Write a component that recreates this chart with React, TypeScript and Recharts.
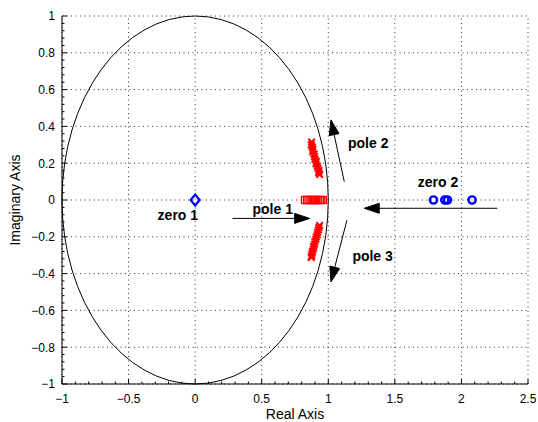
import React from 'react';
import {
  ScatterChart,
  Scatter,
  XAxis,
  YAxis,
  ReferenceLine,
  ReferenceArea,
  ReferenceDot,
  Label,
} from 'recharts';

// ---- ticks ----
const xMajorTicks = [-1, -0.5, 0, 0.5, 1, 1.5, 2, 2.5];
const yMajorTicks = [-1, -0.8, -0.6, -0.4, -0.2, 0, 0.2, 0.4, 0.6, 0.8, 1];
const xMinorStep = 0.1;
const yMinorStep = 0.04;

// ---- data (real, imaginary) ----
const zero1 = [{ x: 0, y: 0 }];
const zero2 = [
  { x: 1.79, y: 0 },
  { x: 1.875, y: 0 },
  { x: 1.895, y: 0 },
  { x: 2.08, y: 0 },
];
const pole1 = [
  { x: 0.825, y: 0 },
  { x: 0.84, y: 0 },
  { x: 0.852, y: 0 },
  { x: 0.866, y: 0 },
  { x: 0.878, y: 0 },
  { x: 0.89, y: 0 },
  { x: 0.9, y: 0 },
  { x: 0.912, y: 0 },
  { x: 0.925, y: 0 },
  { x: 0.937, y: 0 },
  { x: 0.948, y: 0 },
  { x: 0.96, y: 0 },
];
const pole2 = [
  { x: 0.875, y: 0.315 },
  { x: 0.872, y: 0.3 },
  { x: 0.88, y: 0.288 },
  { x: 0.885, y: 0.275 },
  { x: 0.882, y: 0.262 },
  { x: 0.893, y: 0.25 },
  { x: 0.897, y: 0.236 },
  { x: 0.9, y: 0.222 },
  { x: 0.91, y: 0.21 },
  { x: 0.908, y: 0.197 },
  { x: 0.918, y: 0.185 },
  { x: 0.922, y: 0.172 },
  { x: 0.93, y: 0.16 },
  { x: 0.928, y: 0.148 },
  { x: 0.935, y: 0.138 },
];
const pole3 = [
  { x: 0.935, y: -0.138 },
  { x: 0.93, y: -0.15 },
  { x: 0.925, y: -0.162 },
  { x: 0.92, y: -0.175 },
  { x: 0.918, y: -0.188 },
  { x: 0.91, y: -0.2 },
  { x: 0.907, y: -0.213 },
  { x: 0.9, y: -0.226 },
  { x: 0.897, y: -0.24 },
  { x: 0.89, y: -0.252 },
  { x: 0.888, y: -0.265 },
  { x: 0.882, y: -0.278 },
  { x: 0.878, y: -0.29 },
  { x: 0.875, y: -0.302 },
  { x: 0.872, y: -0.312 },
];

// annotation arrows: from -> to (arrow head at "to")
const arrows = [
  { x1: 0.28, y1: -0.1, x2: 0.86, y2: -0.1 },
  { x1: 1.12, y1: 0.1, x2: 1.02, y2: 0.435 },
  { x1: 1.14, y1: -0.11, x2: 1.02, y2: -0.445 },
  { x1: 2.27, y1: -0.045, x2: 1.27, y2: -0.045 },
];

// annotation texts
const notes = [
  { x: -0.13, y: -0.082, text: 'zero 1' },
  { x: 0.583, y: -0.049, text: 'pole 1' },
  { x: 1.3, y: 0.3125, text: 'pole 2' },
  { x: 1.333, y: -0.307, text: 'pole 3' },
  { x: 1.824, y: 0.1, text: 'zero 2' },
];

const makeTicks = (min: number, max: number, step: number) => {
  const out: number[] = [];
  const n = Math.round((max - min) / step);
  for (let i = 0; i <= n; i++) out.push(Number((min + i * step).toFixed(4)));
  return out;
};
const xAllTicks = makeTicks(-1, 2.5, xMinorStep);
const yAllTicks = makeTicks(-1, 1, yMinorStep);

const isMajor = (v: number, arr: number[]) => arr.some((m) => Math.abs(m - v) < 1e-6);
const fmt = (v: number) => (v < 0 ? '\u2212' : '') + Number(Math.abs(v).toFixed(2)).toString();

const FONT = '"Liberation Sans", Arial, Helvetica, sans-serif';
const TICK_MARGIN = 6;

const XTick = (props: any) => {
  const { x, y, payload } = props;
  const v = payload.value;
  const major = isMajor(v, xMajorTicks);
  const axisY = y - TICK_MARGIN;
  return (
    <g>
      <line x1={x} x2={x} y1={axisY} y2={axisY - (major ? 5 : 2.5)} stroke="#000" strokeWidth={1} />
      {major && (
        <text x={x} y={axisY + 19} textAnchor="middle" fontSize={12} fontFamily={FONT} fill="#000">
          {fmt(v)}
        </text>
      )}
    </g>
  );
};

const YTick = (props: any) => {
  const { x, y, payload } = props;
  const v = payload.value;
  const major = isMajor(v, yMajorTicks);
  const axisX = x + TICK_MARGIN;
  return (
    <g>
      <line x1={axisX} x2={axisX + (major ? 5 : 2.5)} y1={y} y2={y} stroke="#000" strokeWidth={1} />
      {major && (
        <text x={axisX - 7} y={y + 4.3} textAnchor="end" fontSize={12} fontFamily={FONT} fill="#000">
          {fmt(v)}
        </text>
      )}
    </g>
  );
};

const CrossShape = (props: any) => {
  const { cx, cy } = props;
  const s = 3.3;
  return (
    <g stroke="#ff0000" strokeWidth={2}>
      <line x1={cx - s} y1={cy - s} x2={cx + s} y2={cy + s} />
      <line x1={cx - s} y1={cy + s} x2={cx + s} y2={cy - s} />
    </g>
  );
};

const SquareShape = (props: any) => {
  const { cx, cy } = props;
  return <rect x={cx - 3.5} y={cy - 3.5} width={7} height={7} fill="none" stroke="#ff0000" strokeWidth={1.3} />;
};

const DiamondShape = (props: any) => {
  const { cx, cy } = props;
  return (
    <path
      d={`M${cx},${cy - 5.5} L${cx + 4.5},${cy} L${cx},${cy + 5.5} L${cx - 4.5},${cy} Z`}
      fill="none"
      stroke="#0000ff"
      strokeWidth={2.2}
    />
  );
};

const CircleShape = (props: any) => {
  const { cx, cy } = props;
  return <circle cx={cx} cy={cy} r={3.6} fill="none" stroke="#0000ff" strokeWidth={2.4} />;
};

const EllipseShape = (props: any) => {
  const { x, y, width, height } = props;
  return (
    <ellipse
      cx={x + width / 2}
      cy={y + height / 2}
      rx={Math.abs(width) / 2}
      ry={Math.abs(height) / 2}
      fill="none"
      stroke="#000"
      strokeWidth={1}
    />
  );
};

const ArrowShape = (props: any) => {
  const { x1, y1, x2, y2 } = props;
  const dx = x2 - x1;
  const dy = y2 - y1;
  const len = Math.sqrt(dx * dx + dy * dy) || 1;
  const ux = dx / len;
  const uy = dy / len;
  const L = 15;
  const W = 5;
  const bx = x2 - ux * L;
  const by = y2 - uy * L;
  const px = -uy;
  const py = ux;
  return (
    <g>
      <line x1={x1} y1={y1} x2={bx} y2={by} stroke="#000" strokeWidth={1} />
      <path
        d={`M${x2},${y2} L${bx + px * W},${by + py * W} L${bx - px * W},${by - py * W} Z`}
        fill="#000"
        stroke="#000"
      />
    </g>
  );
};

const makeText = (text: string) => (props: any) => {
  const { cx, cy } = props;
  return (
    <text
      x={cx}
      y={cy + 5}
      textAnchor="middle"
      fontSize={14}
      fontWeight="bold"
      fontFamily={FONT}
      fill="#000"
    >
      {text}
    </text>
  );
};

export default function App() {
  return (
    <div style={{ position: 'absolute', left: 0, top: 0, width: 538, height: 422, background: '#fff' }}>
      <ScatterChart width={538} height={422} margin={{ top: 16, right: 10, bottom: 0, left: 10 }}>
        <XAxis
          type="number"
          dataKey="x"
          domain={[-1, 2.5]}
          ticks={xAllTicks}
          interval={0}
          tickSize={0}
          tickMargin={TICK_MARGIN}
          tick={<XTick />}
          axisLine={{ stroke: '#000', strokeWidth: 1 }}
          height={38}
          allowDataOverflow
        >
          <Label
            content={(p: any) => {
              const vb = p.viewBox || {};
              return (
                <text
                  x={vb.x + vb.width / 2}
                  y={vb.y + 35}
                  textAnchor="middle"
                  fontSize={14}
                  fontFamily={FONT}
                  fill="#000"
                >
                  Real Axis
                </text>
              );
            }}
          />
        </XAxis>
        <YAxis
          type="number"
          dataKey="y"
          domain={[-1, 1]}
          ticks={yAllTicks}
          interval={0}
          tickSize={0}
          tickMargin={TICK_MARGIN}
          tick={<YTick />}
          axisLine={{ stroke: '#000', strokeWidth: 1 }}
          width={52}
          allowDataOverflow
        >
          <Label
            content={(p: any) => {
              const vb = p.viewBox || {};
              const cx = vb.x + 5;
              const cy = vb.y + vb.height / 2;
              return (
                <text
                  x={cx}
                  y={cy}
                  transform={`rotate(-90 ${cx} ${cy})`}
                  textAnchor="middle"
                  dominantBaseline="central"
                  fontSize={14}
                  fontFamily={FONT}
                  fill="#000"
                >
                  Imaginary Axis
                </text>
              );
            }}
          />
        </YAxis>

        {xMajorTicks.map((v) => (
          <ReferenceLine key={`gx${v}`} x={v} stroke="#333" strokeWidth={1} strokeDasharray="1 3.5" />
        ))}
        {yMajorTicks.map((v) => (
          <ReferenceLine key={`gy${v}`} y={v} stroke="#333" strokeWidth={1} strokeDasharray="1 3.5" />
        ))}

        <ReferenceArea x1={-1} x2={1} y1={-1} y2={1} shape={EllipseShape} />

        {arrows.map((a, i) => (
          <ReferenceLine
            key={`ar${i}`}
            segment={[
              { x: a.x1, y: a.y1 },
              { x: a.x2, y: a.y2 },
            ]}
            shape={ArrowShape}
          />
        ))}

        <Scatter data={pole1} shape={SquareShape} isAnimationActive={false} />
        <Scatter data={pole2} shape={CrossShape} isAnimationActive={false} />
        <Scatter data={pole3} shape={CrossShape} isAnimationActive={false} />
        <Scatter data={zero1} shape={DiamondShape} isAnimationActive={false} />
        <Scatter data={zero2} shape={CircleShape} isAnimationActive={false} />

        {notes.map((n) => (
          <ReferenceDot key={n.text} x={n.x} y={n.y} r={1} shape={makeText(n.text)} />
        ))}
      </ScatterChart>
    </div>
  );
}
